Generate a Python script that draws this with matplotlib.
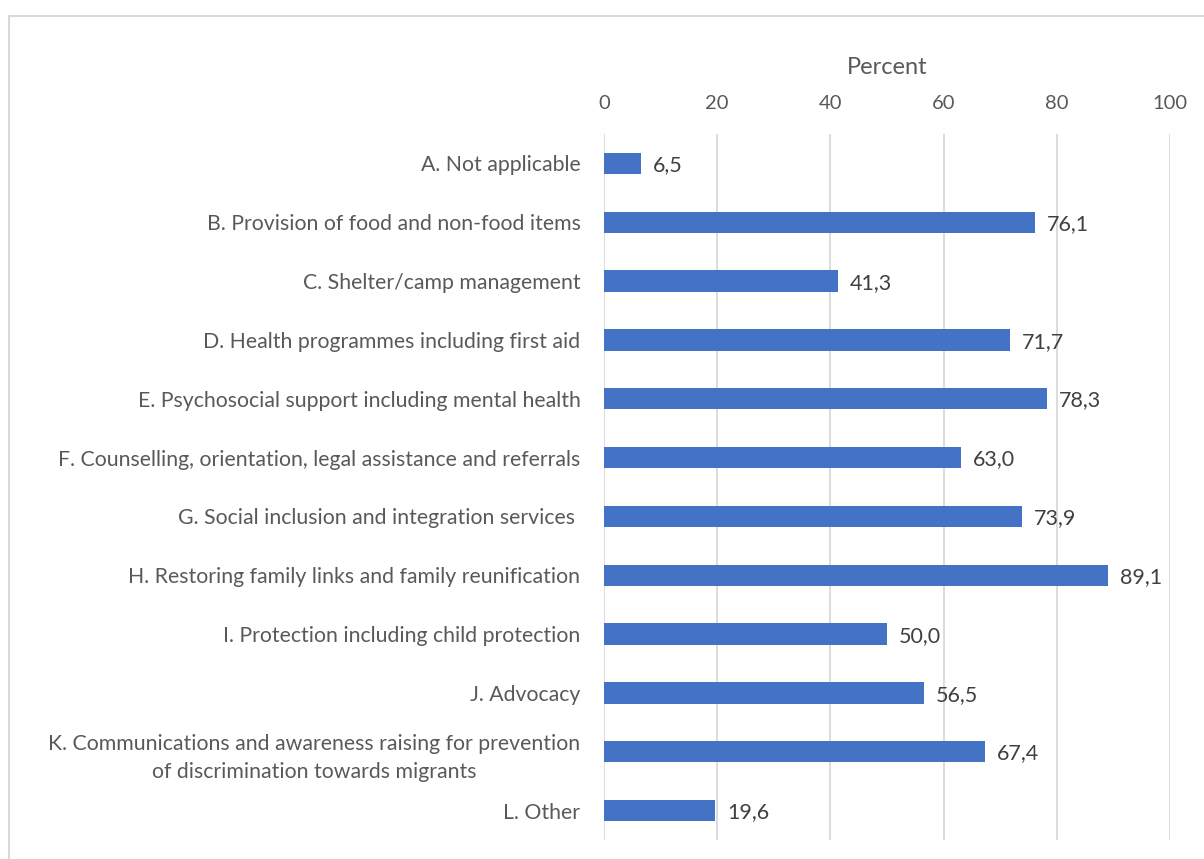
import matplotlib
matplotlib.use("Agg")
import matplotlib.pyplot as plt
from matplotlib.patches import Rectangle

categories = [
    "A. Not applicable",
    "B. Provision of food and non-food items",
    "C. Shelter/camp management",
    "D. Health programmes including first aid",
    "E. Psychosocial support including mental health",
    "F. Counselling, orientation, legal assistance and referrals",
    "G. Social inclusion and integration services ",
    "H. Restoring family links and family reunification",
    "I. Protection including child protection",
    "J. Advocacy",
    "K. Communications and awareness raising for prevention\nof discrimination towards migrants",
    "L. Other",
]
percent = [6.5, 76.1, 41.3, 71.7, 78.3, 63.0, 73.9, 89.1, 50.0, 56.5, 67.4, 19.6]
x_ticks = [0, 20, 40, 60, 80, 100]

plt.rcParams["font.family"] = ["Lato", "DejaVu Sans"]

fig = plt.figure(figsize=(12.04, 8.59), dpi=100)
ax = fig.add_axes([604 / 1204, 1 - 840 / 859, 566 / 1204, 706 / 859])

# outer chart frame (runs off the right and bottom edges)
fig.patches.append(Rectangle((8.5 / 1204, -0.05), 1.2, 1 - 15.5 / 859 + 0.05,
                             transform=fig.transFigure, fill=False,
                             edgecolor="#d9d9d9", linewidth=1.5))

y = list(range(len(categories)))
ax.barh(y, percent, height=0.36, color="#4472c4", zorder=3)

for yi, v in zip(y, percent):
    ax.text(v + 2.1, yi + 0.03, f"{v:.1f}".replace(".", ","), va="center", ha="left",
            fontsize=15.5, color="#404040")

ax.set_xlim(0, 100)
ax.set_ylim(len(categories) - 0.5, -0.5)
ax.set_xticks(x_ticks)
ax.set_yticks(y)
ax.set_yticklabels(categories, fontsize=15.3, color="#595959", ha="right",
                   multialignment="center", linespacing=1.5)
ax.xaxis.tick_top()
ax.xaxis.set_label_position("top")
ax.set_xlabel("Percent", fontsize=17, color="#595959", labelpad=15)
ax.tick_params(axis="x", length=0, labelsize=14.5, labelcolor="#595959", pad=16)
ax.tick_params(axis="y", length=0, pad=17)
ax.grid(axis="x", color="#d9d9d9", linewidth=1.3, zorder=0)
for s in ax.spines.values():
    s.set_visible(False)

plt.savefig("out.png", dpi=100)
